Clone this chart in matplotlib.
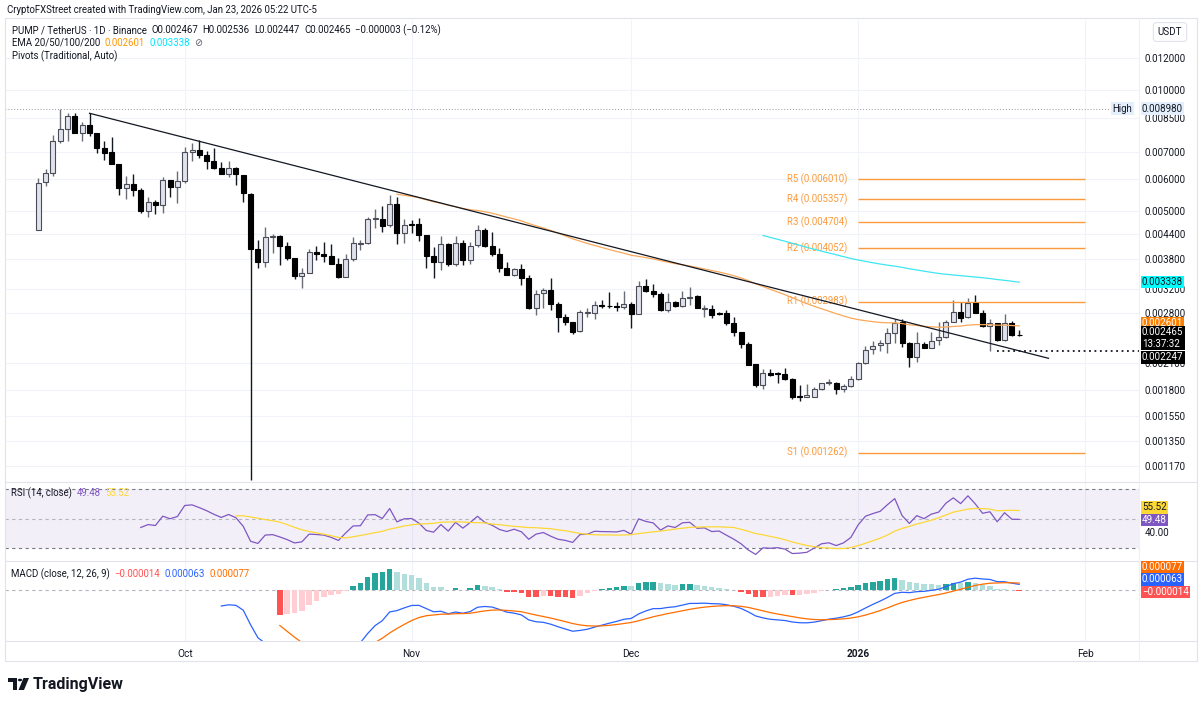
import matplotlib
matplotlib.use("Agg")
import matplotlib.pyplot as plt
from matplotlib.patches import Rectangle, Circle, Polygon
from matplotlib.ticker import NullLocator, NullFormatter
import numpy as np
import pandas as pd

plt.rcParams['font.family'] = ['Roboto', 'DejaVu Sans']

# ---- daily candles PUMP/USDT (Binance) ----
start_date = "2025-09-11"
opens = [0.004490, 0.005894, 0.006205, 0.007474, 0.007989, 0.008605, 0.007796, 0.008174, 0.007823, 0.007156,
         0.006995, 0.006543, 0.005696, 0.005828, 0.005641, 0.005013, 0.005259, 0.005169, 0.005972, 0.005748,
         0.005938, 0.007019, 0.007087, 0.006888, 0.006668, 0.006406, 0.006180, 0.006406, 0.006145, 0.005514,
         0.004022, 0.003747, 0.004322, 0.004339, 0.004098, 0.003821, 0.003459, 0.003519, 0.003954, 0.003922,
         0.003871, 0.003692, 0.003440, 0.003799, 0.004145, 0.004162, 0.004781, 0.004773, 0.004620, 0.005208,
         0.004421, 0.004654, 0.004646, 0.004356, 0.003871, 0.003747, 0.004145, 0.003698, 0.004162, 0.003784,
         0.004122, 0.004490, 0.004105, 0.003909, 0.003621, 0.003473, 0.003588, 0.003420, 0.002882, 0.003129,
         0.003188, 0.002944, 0.002733, 0.002652, 0.002523, 0.002796, 0.002791, 0.002927, 0.002915, 0.002915,
         0.002894, 0.002939, 0.002786, 0.003262, 0.003170, 0.003117, 0.002840, 0.002972, 0.002915, 0.003051,
         0.003081, 0.002861, 0.002856, 0.002801, 0.002791, 0.002646, 0.002513, 0.002343, 0.002087, 0.001854,
         0.001982, 0.001982, 0.001971, 0.001916, 0.001741, 0.001735, 0.001735, 0.001809, 0.001879, 0.001879,
         0.001812, 0.001844, 0.001916, 0.002106, 0.002273, 0.002333, 0.002360, 0.002499, 0.002656, 0.002352,
         0.002179, 0.002343, 0.002286, 0.002397, 0.002434, 0.002661, 0.002817, 0.002728, 0.002955, 0.002801,
         0.002596, 0.002637, 0.002397, 0.002637, 0.002467]
highs = [0.006041, 0.006348, 0.007721, 0.008980, 0.008738, 0.008738, 0.008329, 0.008738, 0.007823, 0.007474,
         0.007620, 0.006543, 0.006110, 0.006180, 0.005696, 0.005411, 0.005328, 0.006086, 0.005972, 0.006298,
         0.007197, 0.007363, 0.007503, 0.007059, 0.007156, 0.006630, 0.006668, 0.006443, 0.006145, 0.005555,
         0.004241, 0.004560, 0.004389, 0.004364, 0.004193, 0.003821, 0.003609, 0.004022, 0.004098, 0.004200,
         0.004138, 0.003821, 0.003915, 0.004307, 0.004241, 0.004827, 0.005062, 0.005149, 0.005482, 0.005411,
         0.004773, 0.004754, 0.004800, 0.004356, 0.004082, 0.004339, 0.004176, 0.004339, 0.004241, 0.004200,
         0.004620, 0.004534, 0.004447, 0.004045, 0.003747, 0.003621, 0.003692, 0.003473, 0.003188, 0.003230,
         0.003408, 0.002983, 0.002776, 0.002661, 0.002845, 0.002872, 0.002994, 0.003012, 0.003158, 0.002972,
         0.003170, 0.002972, 0.003356, 0.003389, 0.003294, 0.003147, 0.003129, 0.002999, 0.003176, 0.003249,
         0.003099, 0.002927, 0.002927, 0.002812, 0.002845, 0.002738, 0.002513, 0.002374, 0.002087, 0.002028,
         0.002028, 0.002000, 0.002040, 0.001927, 0.001854, 0.001865, 0.001836, 0.001879, 0.001916, 0.001890,
         0.001865, 0.001952, 0.002118, 0.002316, 0.002387, 0.002397, 0.002562, 0.002698, 0.002698, 0.002374,
         0.002513, 0.002374, 0.002513, 0.002661, 0.002687, 0.003012, 0.002983, 0.003041, 0.003099, 0.002845,
         0.002698, 0.002646, 0.002780, 0.002676, 0.002536]
lows = [0.004490, 0.005771, 0.006110, 0.007363, 0.007474, 0.007796, 0.007474, 0.007677, 0.006955, 0.006694,
        0.006532, 0.005482, 0.005350, 0.005461, 0.004956, 0.004844, 0.004919, 0.004956, 0.005411, 0.005229,
        0.005861, 0.006668, 0.006759, 0.006348, 0.006348, 0.006180, 0.006065, 0.005804, 0.005277, 0.001078,
        0.003609, 0.003629, 0.003945, 0.003671, 0.003784, 0.003389, 0.003219, 0.003507, 0.003784, 0.003747,
        0.003692, 0.003420, 0.003440, 0.003768, 0.004006, 0.004145, 0.004534, 0.004447, 0.004575, 0.004138,
        0.004162, 0.004421, 0.004217, 0.003609, 0.003420, 0.003574, 0.003656, 0.003656, 0.003677, 0.003692,
        0.004082, 0.004082, 0.003878, 0.003539, 0.003473, 0.003459, 0.003281, 0.002861, 0.002764, 0.002882,
        0.002845, 0.002505, 0.002611, 0.002476, 0.002513, 0.002738, 0.002702, 0.002882, 0.002872, 0.002828,
        0.002861, 0.002571, 0.002776, 0.003158, 0.003069, 0.002828, 0.002817, 0.002889, 0.002889, 0.002927,
        0.002872, 0.002738, 0.002713, 0.002764, 0.002611, 0.002452, 0.002286, 0.002078, 0.001830, 0.001809,
        0.001952, 0.001879, 0.001908, 0.001709, 0.001695, 0.001729, 0.001729, 0.001802, 0.001854, 0.001761,
        0.001785, 0.001836, 0.001908, 0.002090, 0.002213, 0.002255, 0.002222, 0.002352, 0.002307, 0.002058,
        0.002118, 0.002286, 0.002286, 0.002330, 0.002420, 0.002661, 0.002661, 0.002713, 0.002791, 0.002586,
        0.002247, 0.002387, 0.002387, 0.002452, 0.002447]
closes = [0.005881, 0.006205, 0.007474, 0.007989, 0.008605, 0.007796, 0.008174, 0.007823, 0.007156, 0.006955,
          0.006532, 0.005696, 0.005828, 0.005641, 0.005013, 0.005259, 0.005169, 0.005972, 0.005748, 0.005938,
          0.007019, 0.007087, 0.006888, 0.006668, 0.006406, 0.006180, 0.006406, 0.006180, 0.005536, 0.004022,
          0.003747, 0.004307, 0.004339, 0.004098, 0.003821, 0.003459, 0.003519, 0.003954, 0.003922, 0.003871,
          0.003692, 0.003440, 0.003799, 0.004162, 0.004176, 0.004789, 0.004808, 0.004601, 0.005208, 0.004421,
          0.004612, 0.004628, 0.004356, 0.003871, 0.003747, 0.004138, 0.003698, 0.004176, 0.003784, 0.004105,
          0.004490, 0.004105, 0.003909, 0.003621, 0.003473, 0.003588, 0.003420, 0.002882, 0.003117, 0.003188,
          0.002944, 0.002733, 0.002652, 0.002513, 0.002807, 0.002817, 0.002927, 0.002910, 0.002905, 0.002894,
          0.002939, 0.002786, 0.003262, 0.003170, 0.003117, 0.002845, 0.002972, 0.002915, 0.003051, 0.003064,
          0.002872, 0.002882, 0.002764, 0.002776, 0.002646, 0.002513, 0.002343, 0.002078, 0.001854, 0.001982,
          0.001963, 0.001974, 0.001916, 0.001729, 0.001735, 0.001748, 0.001809, 0.001872, 0.001886, 0.001809,
          0.001844, 0.001916, 0.002106, 0.002264, 0.002316, 0.002360, 0.002499, 0.002646, 0.002352, 0.002179,
          0.002352, 0.002286, 0.002387, 0.002434, 0.002661, 0.002817, 0.002713, 0.002955, 0.002801, 0.002596,
          0.002637, 0.002397, 0.002637, 0.002468, 0.002465]

# drawings / pivot levels on the chart
pivot_names = ["R5", "R4", "R3", "R2", "R1", "S1"]
pivot_values = [0.006010, 0.005357, 0.004704, 0.004052, 0.002983, 0.001262]
pivot_period = ["2026-01-01", "2026-02-01"]
trend_dates = ["2025-09-18", "2026-01-27"]
trend_prices = [0.00874, 0.00216]
high_price = 0.008980
low_line_date = "2026-01-20"
low_line_price = 0.002247
month_ticks = ["2025-10-01", "2025-11-01", "2025-12-01", "2026-01-01", "2026-02-01"]
month_labels = ["Oct", "Nov", "Dec", "2026", "Feb"]
price_ticks = [0.012, 0.010, 0.0085, 0.007, 0.006, 0.005, 0.0044, 0.0038, 0.0032,
               0.0028, 0.0021, 0.0018, 0.00155, 0.00135, 0.00117]

O = np.array(opens); Hh = np.array(highs); Lw = np.array(lows); C = np.array(closes)
t0 = pd.Timestamp(start_date)
def pos(d):
    return (pd.Timestamp(d) - t0).days
x = np.arange(len(C))


def ema(v, n):
    v = np.asarray(v, float)
    out = np.full(len(v), np.nan)
    ok = np.where(~np.isnan(v))[0]
    if len(ok) < n:
        return out
    s = ok[0]
    out[s + n - 1] = v[s:s + n].mean()
    a = 2.0 / (n + 1)
    for i in range(s + n, len(v)):
        out[i] = a * v[i] + (1 - a) * out[i - 1]
    return out


def rsi(v, n=14):
    d = np.diff(v)
    up = np.clip(d, 0, None); dn = np.clip(-d, 0, None)
    out = np.full(len(v), np.nan)
    au, ad = up[:n].mean(), dn[:n].mean()
    out[n] = 100 - 100 / (1 + au / ad)
    for i in range(n + 1, len(v)):
        au = (au * (n - 1) + up[i - 1]) / n
        ad = (ad * (n - 1) + dn[i - 1]) / n
        out[i] = 100 - 100 / (1 + au / ad)
    return out


ema50 = ema(C, 50)
ema100 = ema(C, 100)
rsi14 = rsi(C, 14)
rsi_ma = pd.Series(rsi14).rolling(14).mean().values
macd = ema(C, 12) - ema(C, 26)
signal = ema(macd, 9)
hist = macd - signal

# ---- figure ----
W, H = 1204, 703
def fx(p): return p / W
def fy(p): return 1 - p / H

fig = plt.figure(figsize=(W / 100, H / 100), dpi=100)
fig.patch.set_facecolor("white")
rend = fig.canvas.get_renderer()
PL, PR = 5, 1139
ax = fig.add_axes([fx(PL), fy(481.7), fx(PR) - fx(PL), (481.7 - 20) / H])
ax_rsi = fig.add_axes([fx(PL), fy(560.7), fx(PR) - fx(PL), 79 / H], sharex=ax)
ax_macd = fig.add_axes([fx(PL), fy(640.7), fx(PR) - fx(PL), 80 / H], sharex=ax)

mt = [pos(d) for d in month_ticks]
for a in (ax, ax_rsi, ax_macd):
    for s in a.spines.values():
        s.set_visible(False)
    a.set_facecolor("none")
    for m in mt:
        a.axvline(m, color="#f0f3fa", lw=0.8, zorder=0)
ax.set_xlim((PL - 38.3) / 7.32, (PR - 38.3) / 7.32)

# main price panel
ax.set_yscale("log")
ax.set_ylim(0.0010684, 0.01488)
ax.yaxis.set_minor_locator(NullLocator())
ax.yaxis.set_minor_formatter(NullFormatter())
ax.set_yticks(price_ticks)
ax.set_yticklabels([f"{t:.6f}" for t in price_ticks])
ax.yaxis.tick_right()
ax.tick_params(axis="y", length=0, pad=4, labelsize=7.1, labelcolor="#131722")
ax.tick_params(axis="x", length=0, labelbottom=False)
for t in price_ticks:
    ax.axhline(t, color="#f0f3fa", lw=0.8, zorder=0)

up = C >= O
bot = np.minimum(O, C); top = np.maximum(O, C)
ax.vlines(x, Lw, Hh, color=np.where(up, "#6a6d78", "#131722"), lw=1.0, zorder=2)
ax.bar(x, top - bot, bottom=bot, width=0.68, color=np.where(up, "#e0e3eb", "#000000"),
       edgecolor=np.where(up, "#4a4d57", "#000000"), lw=0.8, zorder=3)

ax.plot(x, ema50, color="#f9a85a", lw=0.9, zorder=4)
ax.plot(x, ema100, color="#3ee6f2", lw=0.9, zorder=4)

ps, pe = pos(pivot_period[0]), pos(pivot_period[1])
for nm, v in zip(pivot_names, pivot_values):
    ax.hlines(v, ps, pe, color="#fb9a3c", lw=1.0, zorder=2)
    ax.text(ps - 1.5, v, f"{nm} ({v:.6f})", color="#fb9a3c", fontsize=6.9,
            ha="right", va="center", zorder=2)

ax.plot([pos(d) for d in trend_dates], trend_prices, color="#131722", lw=0.9, zorder=5)
ax.hlines(high_price, ax.get_xlim()[0], (1110 - 38.3) / 7.32, color="#9598a1",
          lw=0.7, linestyles=(0, (1, 2)), zorder=1)
ax.text((1112.5 - 38.3) / 7.32, high_price, "High", fontsize=6.9, color="#131722", va="center",
        ha="left", bbox=dict(boxstyle="square,pad=0.2", fc="#e3effd", ec="none"), zorder=6)
ax.hlines(low_line_price, pos(low_line_date), ax.get_xlim()[1], color="#131722",
          lw=1.3, linestyles=(0, (1, 2)), zorder=5)

# RSI panel
ax_rsi.set_ylim(21.67, 74.96)
ax_rsi.axhspan(30, 70, color="#7e57c2", alpha=0.09, lw=0, zorder=0)
ax_rsi.axhline(70, color="#787b86", lw=0.8, ls=(0, (3, 3)))
ax_rsi.axhline(50, color="#b2b5be", lw=0.8, ls=(0, (3, 3)))
ax_rsi.axhline(30, color="#787b86", lw=0.8, ls=(0, (3, 3)))
ax_rsi.plot(x, rsi14, color="#7e57c2", lw=0.9)
ax_rsi.plot(x, rsi_ma, color="#fdd835", lw=0.9)
ax_rsi.set_yticks([]); ax_rsi.tick_params(axis="x", length=0, labelbottom=False)

# MACD panel
ax_macd.set_ylim(-0.00056, 0.000324)
ax_macd.axhline(0, color="#b2b5be", lw=0.8, ls=(0, (3, 3)))
hcol = []
for i in range(len(hist)):
    h = hist[i]; p = hist[i - 1] if i > 0 else np.nan
    if h >= 0:
        hcol.append("#26a69a" if (np.isnan(p) or h > p) else "#b2dfdb")
    else:
        hcol.append("#ffcdd2" if (not np.isnan(p) and h > p) else "#ff5252")
ax_macd.bar(x, np.nan_to_num(hist), width=0.75, color=hcol, zorder=2)
ax_macd.plot(x, macd, color="#2962ff", lw=0.9, zorder=3)
ax_macd.plot(x, signal, color="#ff6d00", lw=0.9, zorder=3)
ax_macd.set_yticks([])
ax_macd.set_xticks(mt)
ax_macd.set_xticklabels(month_labels)
ax_macd.tick_params(axis="x", length=0, pad=6, labelsize=7.3, labelcolor="#131722")
for lab in ax_macd.get_xticklabels():
    if lab.get_text() == "2026":
        lab.set_fontweight("bold")

# frames / separators
fig.add_artist(Rectangle((fx(5), fy(661)), fx(1197) - fx(5), (661 - 18) / H, transform=fig.transFigure,
                         fill=False, ec="#e0e3eb", lw=0.8))
for yy in (481.7, 560.7, 640.7):
    fig.add_artist(plt.Line2D([fx(5), fx(1197)], [fy(yy), fy(yy)], color="#e0e3eb", lw=0.8))
fig.add_artist(plt.Line2D([fx(PR), fx(PR)], [fy(18), fy(661)], color="#eef0f3", lw=0.8))

# header texts, written piece after piece
TXT = "#131722"
def seq(px, py, parts, size=6.9, gap=4.5):
    xx = px
    for s, col in parts:
        fam = ["DejaVu Sans"] if s == "\u2298" else ["Roboto", "DejaVu Sans"]
        t = fig.text(fx(xx), fy(py), s, fontsize=size, color=col, va="center", family=fam)
        xx += t.get_window_extent(renderer=rend).width + gap

seq(7, 10, [("CryptoFXStreet created with TradingView.com, Jan 23, 2026 05:22 UTC-5", TXT)], size=6.95)
seq(12, 30, [("PUMP / TetherUS · 1D · Binance", TXT), ("O0.002467", TXT), ("H0.002536", TXT),
             ("L0.002447", TXT), ("C0.002465", TXT), ("\u22120.000003 (\u22120.12%)", TXT)])
seq(12, 43, [("EMA 20/50/100/200", TXT), ("0.002601", "#ff9800"), ("0.003338", "#00e5ff"),
             ("\u2298", "#5d606b")])
seq(12, 56, [("Pivots (Traditional, Auto)", TXT)])
seq(11, 493, [("RSI (14, close)", TXT), ("49.48", "#7e57c2"), ("55.52", "#fdd835")])
seq(11, 574, [("MACD (close, 12, 26, 9)", TXT), ("\u22120.000014", "#ff5252"),
              ("0.000063", "#2962ff"), ("0.000077", "#ff6d00")])

# right scale tags
def tag(s, py, fc, tc="white"):
    fig.text(fx(1142), fy(py), s, fontsize=7.1, color=tc, va="center", ha="left", linespacing=1.15,
             bbox=dict(boxstyle="square,pad=0.12", fc=fc, ec="none"))

fig.text(fx(1170), fy(32), "USDT", fontsize=7.1, color=TXT, ha="center", va="center",
         bbox=dict(boxstyle="round,pad=0.45,rounding_size=0.3", fc="white", ec="#e0e3eb", lw=0.8))
tag("0.008980", 108.5, "#e3effd", TXT)
tag("0.003338", 282, "#00ffff", TXT)
tag("0.002601", 322.7, "#ff8000")
tag("0.002465\n13:37:32", 338, "#000000")
tag("0.002247", 357.5, "#000000")
tag("55.52", 507.5, "#fdd835", TXT)
tag("49.48", 520, "#7e57c2")
fig.text(fx(1145), fy(533.3), "40.00", fontsize=7.1, color=TXT, va="center")
tag("0.000077", 567, "#ff6d00")
tag("0.000063", 579.5, "#2962ff")
tag("\u22120.000014", 592, "#ff5252")

# TradingView logo
fig.add_artist(Polygon([[fx(8), fy(678)], [fx(17), fy(678)], [fx(17), fy(690)], [fx(12.5), fy(690)],
                        [fx(12.5), fy(682)], [fx(8), fy(682)]], closed=True, transform=fig.transFigure,
                       fc=TXT, ec="none"))
fig.add_artist(Circle((fx(20), fy(680)), 2.2 / W, transform=fig.transFigure, fc=TXT, ec="none"))
fig.add_artist(Polygon([[fx(23.5), fy(678)], [fx(29), fy(678)], [fx(24), fy(690)], [fx(18.5), fy(690)]],
                       closed=True, transform=fig.transFigure, fc=TXT, ec="none"))
fig.text(fx(33), fy(684), "TradingView", fontsize=11.5, fontweight="bold", color=TXT, va="center")

fig.savefig("out.png", dpi=100, facecolor="white")
